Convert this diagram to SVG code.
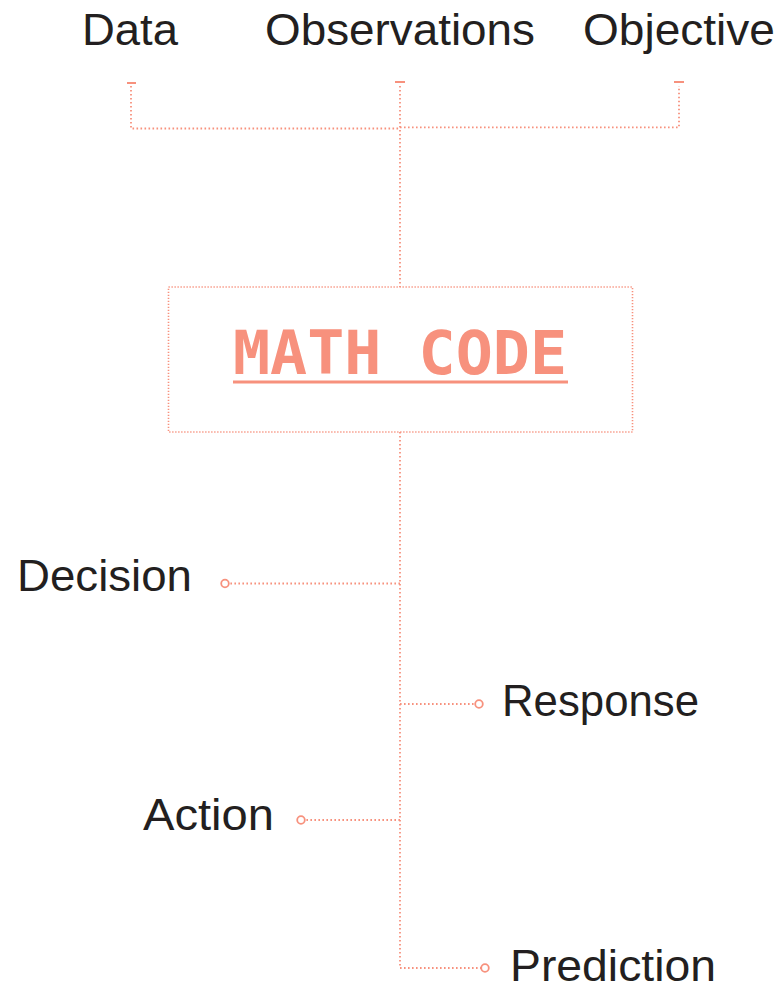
<svg xmlns="http://www.w3.org/2000/svg" width="779" height="988" viewBox="0 0 779 988">
  <style>
    .label { font-family: "Liberation Sans", Arial, sans-serif; font-size: 44px; fill: #231f20; }
    .title { font-family: "DejaVu Sans Mono", "Liberation Mono", monospace; font-weight: bold; font-size: 60px; fill: #f7917d; }
    .dot { fill: none; stroke: #f7917d; stroke-width: 1.8; stroke-dasharray: 1.6 2.4; }
    .fine { fill: none; stroke: #f7917d; stroke-width: 1.6; stroke-dasharray: 1.3 1.7; }
    .tick { stroke: #f7917d; stroke-width: 2; }
    .end { fill: #ffffff; stroke: #f7917d; stroke-width: 1.8; }
  </style>
  <rect width="779" height="988" fill="#ffffff"/>

  <g id="connectors">
    <!-- input ticks -->
    <line class="tick" x1="127" y1="83" x2="136" y2="83"/>
    <line class="tick" x1="395" y1="82" x2="405" y2="82"/>
    <line class="tick" x1="674" y1="82" x2="684" y2="82"/>
    <!-- input risers and bus -->
    <polyline class="dot" points="131,86 131,128.5 400,128.5"/>
    <polyline class="dot" points="400,127.3 679,127.3 679,86"/>
    <line class="dot" x1="400" y1="86" x2="400" y2="287"/>
    <!-- output trunk -->
    <line class="dot" x1="400" y1="432" x2="400" y2="968"/>
    <!-- output branches -->
    <line class="dot" x1="400" y1="583.5" x2="229" y2="583.5"/>
    <line class="dot" x1="400" y1="704" x2="475" y2="704"/>
    <line class="dot" x1="400" y1="820" x2="305" y2="820"/>
    <line class="dot" x1="400" y1="968" x2="481" y2="968"/>
    <circle class="end" cx="225" cy="583.5" r="3.8"/>
    <circle class="end" cx="479" cy="704" r="3.8"/>
    <circle class="end" cx="301" cy="820" r="3.8"/>
    <circle class="end" cx="485" cy="968" r="3.8"/>
  </g>

  <g id="data"><text class="label" x="82" y="45" textLength="96" lengthAdjust="spacingAndGlyphs">Data</text></g>
  <g id="observations"><text class="label" x="265" y="45" textLength="270" lengthAdjust="spacingAndGlyphs">Observations</text></g>
  <g id="objective"><text class="label" x="583" y="45" textLength="192" lengthAdjust="spacingAndGlyphs">Objective</text></g>

  <g id="math-code">
    <rect class="fine" x="168.5" y="287" width="464" height="145"/>
    <text class="title" x="233" y="374" textLength="334" lengthAdjust="spacingAndGlyphs">MATH CODE</text>
    <rect x="233" y="380.5" width="335" height="3" fill="#f7917d"/>
  </g>

  <g id="decision"><text class="label" x="17" y="591" textLength="175" lengthAdjust="spacingAndGlyphs">Decision</text></g>
  <g id="response"><text class="label" x="502" y="716" textLength="197" lengthAdjust="spacingAndGlyphs">Response</text></g>
  <g id="action"><text class="label" x="143" y="830" textLength="131" lengthAdjust="spacingAndGlyphs">Action</text></g>
  <g id="prediction"><text class="label" x="510" y="981" textLength="206" lengthAdjust="spacingAndGlyphs">Prediction</text></g>
</svg>
